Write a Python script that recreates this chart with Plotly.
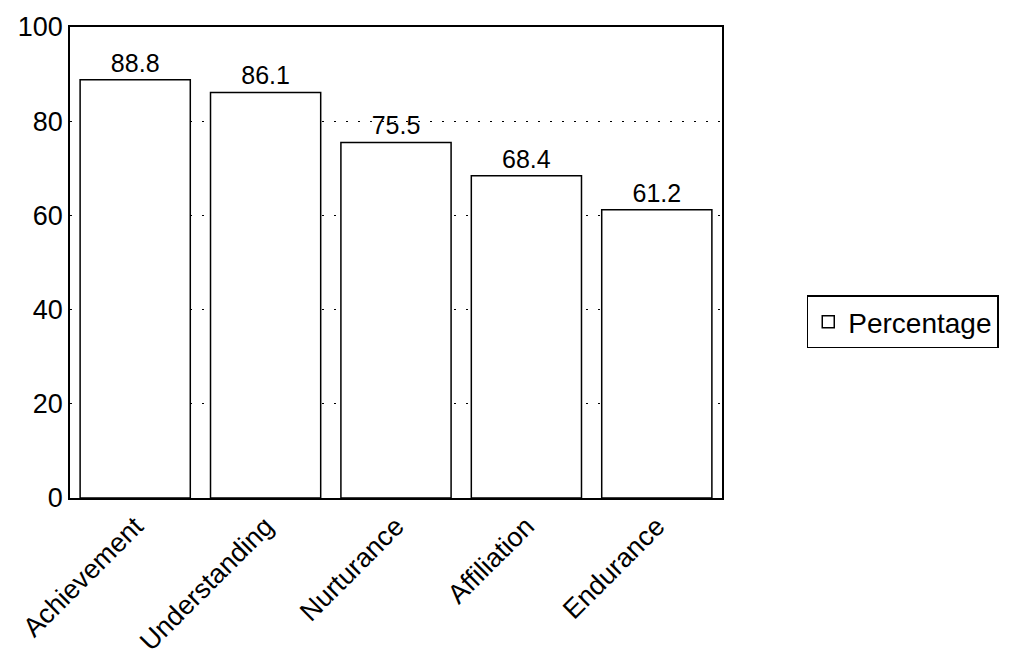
import plotly.graph_objects as go

categories = ["Achievement", "Understanding", "Nurturance", "Affiliation", "Endurance"]
percentages = [88.8, 86.1, 75.5, 68.4, 61.2]
y_ticks = [0, 20, 40, 60, 80, 100]
series_name = "Percentage"

FONT = "Liberation Sans, Arial, Helvetica, sans-serif"

fig = go.Figure()
fig.add_trace(go.Bar(
    x=categories,
    y=percentages,
    name=series_name,
    marker=dict(color="white", line=dict(color="black", width=1.5)),
    text=[f"{v:.1f}" for v in percentages],
    textposition="outside",
    textfont=dict(family=FONT, size=25, color="black"),
    cliponaxis=False,
    showlegend=True,
))

fig.update_layout(
    width=1026,
    height=658,
    margin=dict(l=62, r=312, t=19, b=168, autoexpand=False),
    paper_bgcolor="white",
    plot_bgcolor="white",
    font=dict(family=FONT, size=26, color="black"),
    bargap=0.155,
    showlegend=True,
    legend=dict(
        x=1.13, y=0.43, xanchor="left", yanchor="top",
        bordercolor="black", borderwidth=1.5,
        bgcolor="white",
        font=dict(family=FONT, size=28, color="black"),
    ),
    xaxis=dict(
        tickangle=-45, automargin=False,
        showline=True, linecolor="black", linewidth=1.5, mirror=True,
        ticks="", showgrid=False,
        tickfont=dict(family=FONT, size=27, color="black"),
    ),
    yaxis=dict(
        range=[0, 100], automargin=False,
        tickvals=y_ticks,
        showline=True, linecolor="black", linewidth=1.5, mirror=True,
        ticks="", showgrid=True, gridcolor="black", gridwidth=1,
        griddash="2px,10px",
        zeroline=False,
        tickfont=dict(family=FONT, size=27, color="black"),
    ),
)

fig.write_html("out.html")
